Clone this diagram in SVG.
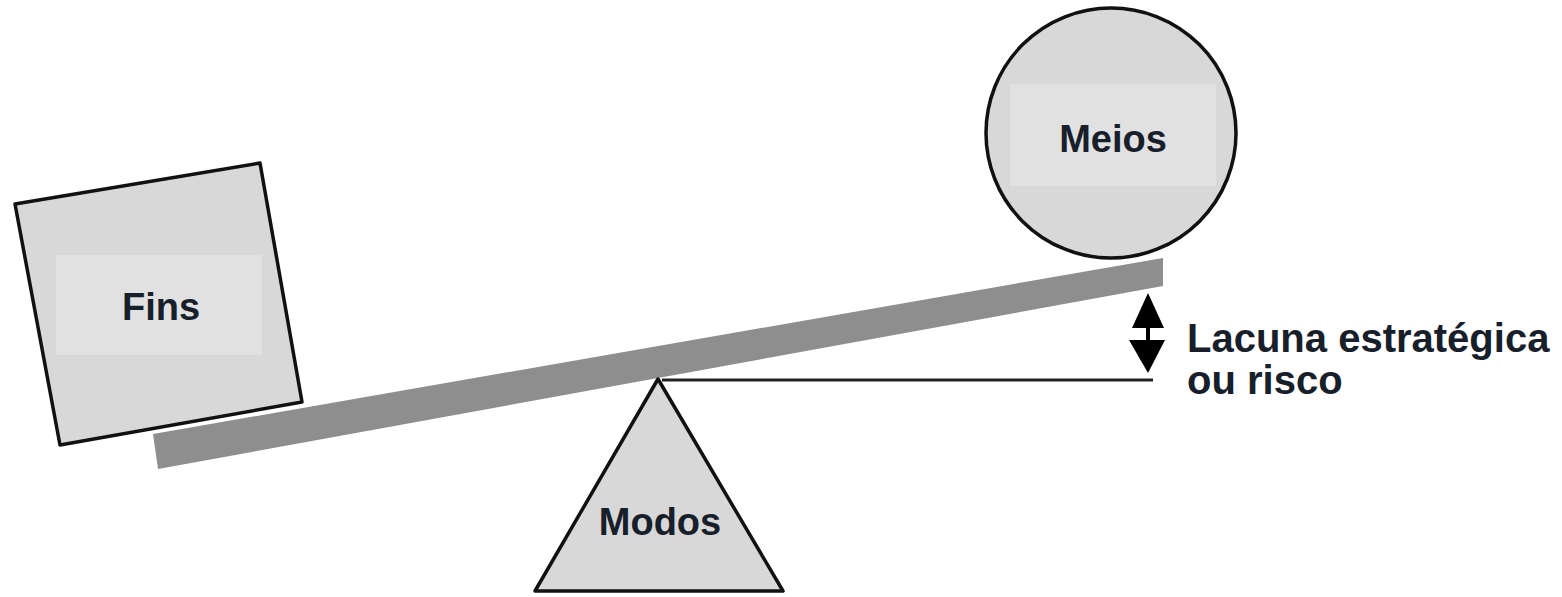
<svg xmlns="http://www.w3.org/2000/svg" width="1562" height="597" viewBox="0 0 1562 597">
  <style>
    .shape { fill: #d8d8d8; stroke: #111; stroke-width: 3.5; stroke-linejoin: round; }
    .band { fill: #e1e1e1; }
    .label { font-family: "Liberation Sans", Arial, sans-serif; font-weight: bold; font-size: 38px; fill: #17202a; }
    .side { font-size: 40px; }
    .beam { fill: #8e8e8e; }
  </style>
  <rect width="1562" height="597" fill="#ffffff"/>

  <!-- ground reference line from pivot -->
  <g id="connectors">
    <line x1="662" y1="380" x2="1153" y2="380" stroke="#222" stroke-width="3"/>
    <!-- double-headed gap arrow -->
    <polygon points="1148,293 1164,328 1132,328" fill="#000"/>
    <rect x="1146" y="326" width="4" height="16" fill="#000"/>
    <polygon points="1129,340 1165,340 1148,373" fill="#000"/>
  </g>

  <!-- beam -->
  <g id="beam">
    <polygon class="beam" points="153,434 1163,258 1163,286 158,469"/>
  </g>

  <!-- Fins: tilted square -->
  <g id="fins">
    <polygon class="shape" points="15,204 260,163 302,402 60,445"/>
    <rect class="band" x="56" y="255" width="206" height="100"/>
    <text class="label" x="161" y="320" text-anchor="middle">Fins</text>
  </g>

  <!-- Meios: circle -->
  <g id="meios">
    <circle class="shape" cx="1111" cy="133" r="125"/>
    <rect class="band" x="1010" y="84" width="206" height="102"/>
    <text class="label" x="1113" y="152" text-anchor="middle">Meios</text>
  </g>

  <!-- Modos: fulcrum triangle -->
  <g id="modos">
    <polygon class="shape" points="658,379 783,591 535,591"/>
    <text class="label" x="660" y="535" text-anchor="middle">Modos</text>
  </g>

  <!-- gap label -->
  <g id="lacuna">
    <text class="label side" x="1187" y="352">Lacuna estratégica</text>
    <text class="label side" x="1187" y="394">ou risco</text>
  </g>
</svg>
